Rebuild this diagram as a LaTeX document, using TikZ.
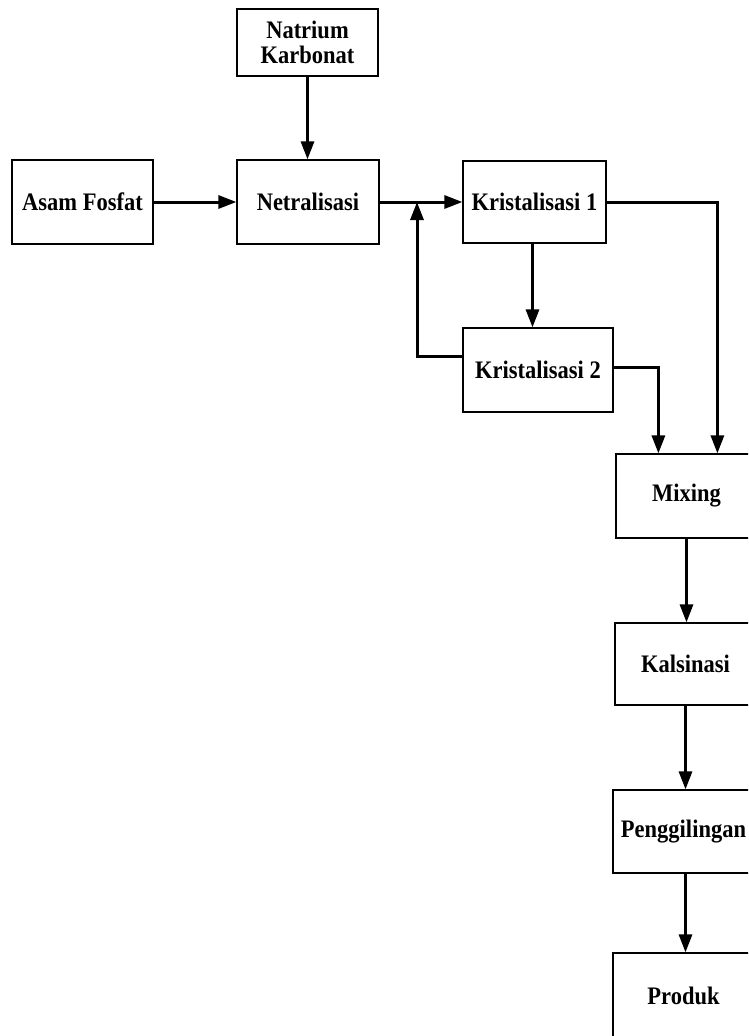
\documentclass[tikz,border=0pt]{standalone}
\usepackage{fontspec}
\usepackage{graphicx}
\setmainfont{Liberation Serif}
\usetikzlibrary{arrows.meta,calc}
\newcommand{\tx}[1]{\scalebox{1}[1.12]{#1}}
\begin{document}
\begin{tikzpicture}[x=1pt,y=-1pt,
  box/.style={draw,line width=1.2pt,inner sep=0pt,align=center,
    minimum width=141pt,minimum height=84pt,
    font=\bfseries\fontsize{22.5}{24.5}\selectfont},
  flow/.style={line width=3pt,-{Triangle[length=18pt,width=13pt]}}]
\useasboundingbox (0,0) rectangle (748,1036);
\clip (0,0) rectangle (748,1036);
\node[box,minimum height=67pt] (nk) at (307.5,42.5) {\tx{Natrium}\\\tx{Karbonat}};
\node[box] (af) at (82.5,202) {\tx{Asam Fosfat}};
\node[box,minimum width=142pt] (ne) at (308,202) {\tx{Netralisasi}};
\node[box,minimum width=143pt,minimum height=82pt] (k1) at (534.5,202) {\tx{Kristalisasi 1}};
\node[box,minimum width=150pt] (k2) at (538,370) {\tx{Kristalisasi 2}};
\node[box] (mix) at (686.5,496) {\tx{Mixing}};
\node[box,minimum height=82pt] (kal) at (685.5,664) {\tx{Kalsinasi}};
\node[box,minimum height=83pt] (peng) at (683.5,831.5) {\tx{Penggilingan}};
\node[box,minimum height=86pt] (prod) at (683.5,996) {\tx{Produk}};
\coordinate (fb) at (417,202);
\coordinate (m1) at ($(mix.north west)+(43,0)$);
\coordinate (m2) at ($(mix.north west)+(102,0)$);
\draw[flow] (nk.south) -- (nk.south |- ne.north);
\draw[flow] (af) -- (ne);
\draw[flow] (ne) -- (k1);
\draw[flow] ($(k1.south)+(-2,0)$) -- ($(k1.south |- k2.north)+(-2,0)$);
\draw[flow] ($(k2.west)+(0,-14)$) -| (fb);
\draw[flow] (k1.east) -| (m2);
\draw[flow] ($(k2.east)+(0,-3)$) -| (m1);
\draw[flow] (mix.south) -- (mix.south |- kal.north);
\draw[flow] (kal.south) -- (kal.south |- peng.north);
\draw[flow] ($(peng.south)+(2,0)$) -- ($(peng.south |- prod.north)+(2,0)$);
\end{tikzpicture}
\end{document}
